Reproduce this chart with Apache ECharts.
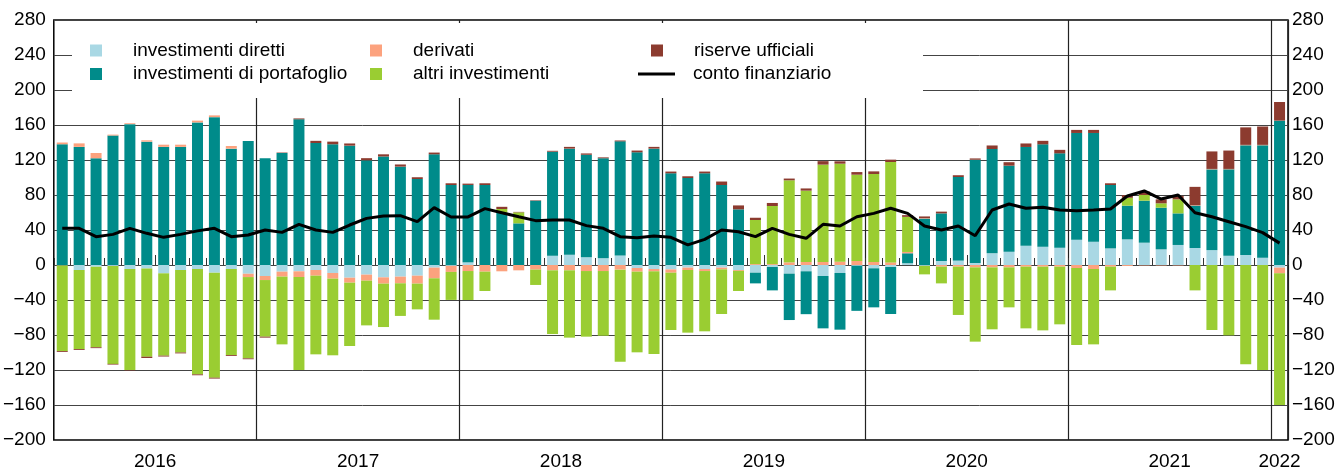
<!DOCTYPE html>
<html>
<head>
<meta charset="utf-8">
<script src="https://cdn.jsdelivr.net/npm/echarts@6/dist/echarts.min.js"></script>
<style>
html, body { margin: 0; padding: 0; background: #fff; }
#main { width: 1342px; height: 471px; }
</style>
</head>
<body>
<div id="main"></div>
<script>
// anni e mesi (categorie)
var years = ['2016', '2017', '2018', '2019', '2020', '2021', '2022'];
var months = [];
for (var y = 0; y < years.length; y++) {
    for (var m = 1; m <= 12; m++) {
        if (y == years.length - 1 && m > 1) break;
        months.push(years[y] + '-' + (m < 10 ? '0' + m : m));
    }
}

// dati (miliardi di euro)
var diretti = [
    -0.5, -5.7, -2, -1, -4.6, -4, -9.5, -5.7, -4.6, -8.8, -4.6, -10,
    -12.6, -7.6, -7.2, -5.7, -9.1, -14.5, -11, -14.1, -13.3, -12.2, -3, -1,
    3, 0, 0, 0, 0, 10.7, 11.8, 8.8, 7.6, 11, -3.4, -4.6,
    -5, -3, -4.6, -3, -5.7, -8.8, -2.3, -9.9, -7.2, -12.6, -9.1, -1,
    -3.8, -2.3, 2, -1, 4.6, 5, 2.3, 13.3, 15.2, 22, 21, 19.8,
    29, 26.7, 19, 29.3, 25.5, 17.9, 22.9, 19.4, 17, 10.7, 11.4, 8.4,
    -3
];
var portafoglio = [
    138, 135, 122, 148, 161, 141, 135, 135, 163, 169, 133, 141.7,
    122, 128, 166.5, 139.4, 138, 136.4, 119.6, 124, 112.4, 98.3, 126.5, 91.4,
    88.5, 91.4, 60, 47.6, 73.5, 118.8, 121.2, 117.2, 114.4, 130.3, 128.8, 133,
    104.8, 99.4, 104.8, 91.4, 63.6, -12.2, -26.7, -53, -49, -59.8, -64.8, -51.4,
    -44.6, -53.7, 11.4, 53, 54.4, 95.6, 118, 119.3, 98.3, 112.9, 116.9, 107.8,
    121.9, 124.2, 72.4, 38.5, 48, 47.6, 36.1, 48.4, 92.3, 98.6, 125.4, 128.4,
    165
];
var derivati = [
    2, 4, 6, 1, 1, 1.5, 2.5, 2.5, 2, 2, 3, -3.8,
    -4.6, -5.7, -6.5, -6.5, -6.5, -5.7, -6.9, -7.2, -7.6, -9.1, -12.2, -6.9,
    -6.9, -7.6, -7.2, -6.1, -5.3, -6.1, -6.1, -6.9, -6.9, -5.3, -4.2, -2.6,
    -3.8, -2.7, -2.3, -2, -1, 1, 1, 3, 3.4, 3.4, 3.8, 4.6,
    3.5, 3, 1.5, 0.5, -1.9, -1.9, -2.7, -2.7, -2.7, -1.9, -1.9, -1.9,
    -3.4, -4.6, -1.9, -1.1, -0.5, -0.5, -0.5, 0.5, 0.5, 0.5, 0.5, 0.5,
    -6.5
];
var altri = [
    -97.8, -90.3, -92, -112, -115.4, -100.8, -94.1, -94.3, -120.4, -120, -98.3, -92.9,
    -64.7, -77.4, -106.3, -89.9, -87.6, -72.4, -51.1, -49.6, -37.3, -29.4, -47.3, -32,
    -33.1, -22.1, 4, 12.6, -17.5, -72.8, -76.9, -75, -73.9, -105.2, -92.2, -94.5,
    -65.5, -71.6, -68.9, -51, -23, 50.4, 66.4, 93.8, 81.6, 111.3, 112, 98.6,
    100.5, 114.7, 40.1, -9.7, -19.1, -55.2, -84.9, -70.8, -45.7, -70.5, -72.8, -65.9,
    -88, -86.1, -27.1, 9, 6.5, 5, 16, -29, -74.3, -80.4, -113.5, -120,
    -150.5
];
var riserve = [
    -1, -1, -1, -0.8, -0.5, -1.5, -1, -1, -1, -1, -1, -1,
    -1.1, 0.5, 1, 2.5, 3, 2.5, 2.5, 2.5, 2.5, 2, 2, 2,
    1.5, 2, 2.5, 0.5, 0.5, 1, 2, 1.5, 1, 1, 2, 2,
    2, 2, 2, 4, 4.5, 2.6, 3.5, 2, 2.5, 4, 2.7, 3,
    3, 2.7, 2, 2, 2, 2, 1.5, 4, 4, 4, 4, 4,
    3.5, 3.5, 2, 3, 4, 4.5, 4, 21, 20, 21, 20, 21,
    21.3
];
var conto = [
    41.9, 41.9, 32.4, 35, 41.9, 36.2, 31.6, 35, 39, 41.9, 32.4, 34.3,
    40, 37.3, 46.5, 40, 37.3, 45.7, 53.3, 56, 56.4, 49.5, 65.5, 54.9,
    54.9, 64.4, 59.8, 55.2, 50.7, 51.4, 51.4, 45, 41.9, 32.4, 31.2, 33.1,
    31.6, 23, 29.3, 40, 38, 32.4, 41.9, 35, 30.5, 46.5, 44.6, 55.2,
    59, 64.8, 59, 44.6, 40, 44.6, 33.5, 62.9, 69.7, 64.8, 65.9, 62.9,
    62, 62.9, 64, 78.9, 84.6, 75.4, 80, 59.8, 55.2, 49.5, 43.8, 37,
    25
];

var font = 'Liberation Sans';
var colors = {
    diretti: '#a9d8e4',
    portafoglio: '#008b8a',
    derivati: '#fca27e',
    altri: '#9acd32',
    riserve: '#8c3b2f'
};

var chartDom = document.getElementById('main');
var myChart = echarts.init(chartDom);

// una legenda per voce, cosi' le colonne restano allineate
function makeLegend(name, left, top, iconWidth, iconHeight, textGap) {
    return {
        data: [{ name: name, icon: 'rect' }],
        left: left,
        top: top,
        padding: 0,
        itemWidth: iconWidth,
        itemHeight: iconHeight,
        selectedMode: false,
        textStyle: {
            fontSize: 19,
            fontFamily: font,
            color: '#000',
            padding: [0, 0, 0, textGap]
        }
    };
}

function barSeries(name, data, color) {
    return {
        name: name,
        type: 'bar',
        stack: 'tot',
        barWidth: 11,
        data: data,
        itemStyle: { color: color }
    };
}

function yLabel(v) {
    return v < 0 ? '\u2212' + (-v) : '' + v;
}

var option = {
    animation: false,
    grid: {
        left: 52, right: 54, top: 20, bottom: 31,
        show: true, borderColor: '#000', borderWidth: 1.5
    },
    graphic: [{
        type: 'rect', z: 3, silent: true,
        left: 72, top: 23,
        shape: { width: 851, height: 75 },
        style: { fill: '#fff' }
    }],
    legend: [
        makeLegend('investimenti diretti', 90, 41, 12, 12, 26),
        makeLegend('investimenti di portafoglio', 90, 64.5, 12, 12, 26),
        makeLegend('derivati', 370, 41, 12, 12, 26),
        makeLegend('altri investimenti', 370, 64.5, 12, 12, 26),
        makeLegend('riserve ufficiali', 651, 41, 12, 12, 26),
        makeLegend('conto finanziario', 638, 64.5, 37, 3, 13)
    ],
    xAxis: [
        {
            type: 'category',
            data: months,
            position: 'bottom',
            axisLine: { show: false },
            axisTick: {
                show: true, inside: true, length: 7, interval: 0,
                lineStyle: { color: '#333' }
            },
            splitLine: {
                show: true,
                interval: function (i) { return i > 0 && i % 12 == 0; },
                lineStyle: { color: '#222', width: 1.2 }
            },
            axisLabel: {
                interval: function (i) { return i % 12 == 6 || i == months.length - 1; },
                margin: 12,
                color: '#000',
                fontSize: 19,
                fontFamily: font,
                formatter: function (v, i) {
                    var yr = v.slice(0, 4);
                    return i == months.length - 1 ? '{b|' + yr + '}' : '{a|' + yr + '}';
                },
                rich: {
                    a: { padding: [0, 17, 0, 0], fontSize: 19, fontFamily: font, color: '#000' },
                    b: { fontSize: 19, fontFamily: font, color: '#000' }
                }
            }
        },
        {
            // tacche lunghe a meta' anno
            type: 'category',
            data: months,
            position: 'bottom',
            axisLine: { show: false },
            axisLabel: { show: false },
            splitLine: { show: false },
            axisTick: {
                show: true, inside: true, length: 10,
                interval: function (i) { return i % 12 == 6; },
                lineStyle: { color: '#333' }
            }
        }
    ],
    yAxis: [
        {
            type: 'value', min: -200, max: 280, interval: 40, position: 'left',
            axisLine: { show: false },
            axisTick: { show: false },
            splitLine: { show: true, lineStyle: { color: '#444', width: 1 } },
            axisLabel: { margin: 8, color: '#000', fontSize: 19, fontFamily: font, formatter: yLabel }
        },
        {
            type: 'value', min: -200, max: 280, interval: 40, position: 'right',
            axisLine: { show: false },
            axisTick: { show: false },
            splitLine: { show: false },
            axisLabel: { margin: 4, color: '#000', fontSize: 19, fontFamily: font, formatter: yLabel }
        }
    ],
    series: [
        barSeries('investimenti diretti', diretti, colors.diretti),
        barSeries('investimenti di portafoglio', portafoglio, colors.portafoglio),
        barSeries('derivati', derivati, colors.derivati),
        barSeries('altri investimenti', altri, colors.altri),
        barSeries('riserve ufficiali', riserve, colors.riserve),
        {
            name: 'conto finanziario',
            type: 'line',
            data: conto,
            symbol: 'none',
            z: 5,
            itemStyle: { color: '#000' },
            lineStyle: { color: '#000', width: 3 }
        }
    ]
};

myChart.setOption(option);
</script>
</body>
</html>
